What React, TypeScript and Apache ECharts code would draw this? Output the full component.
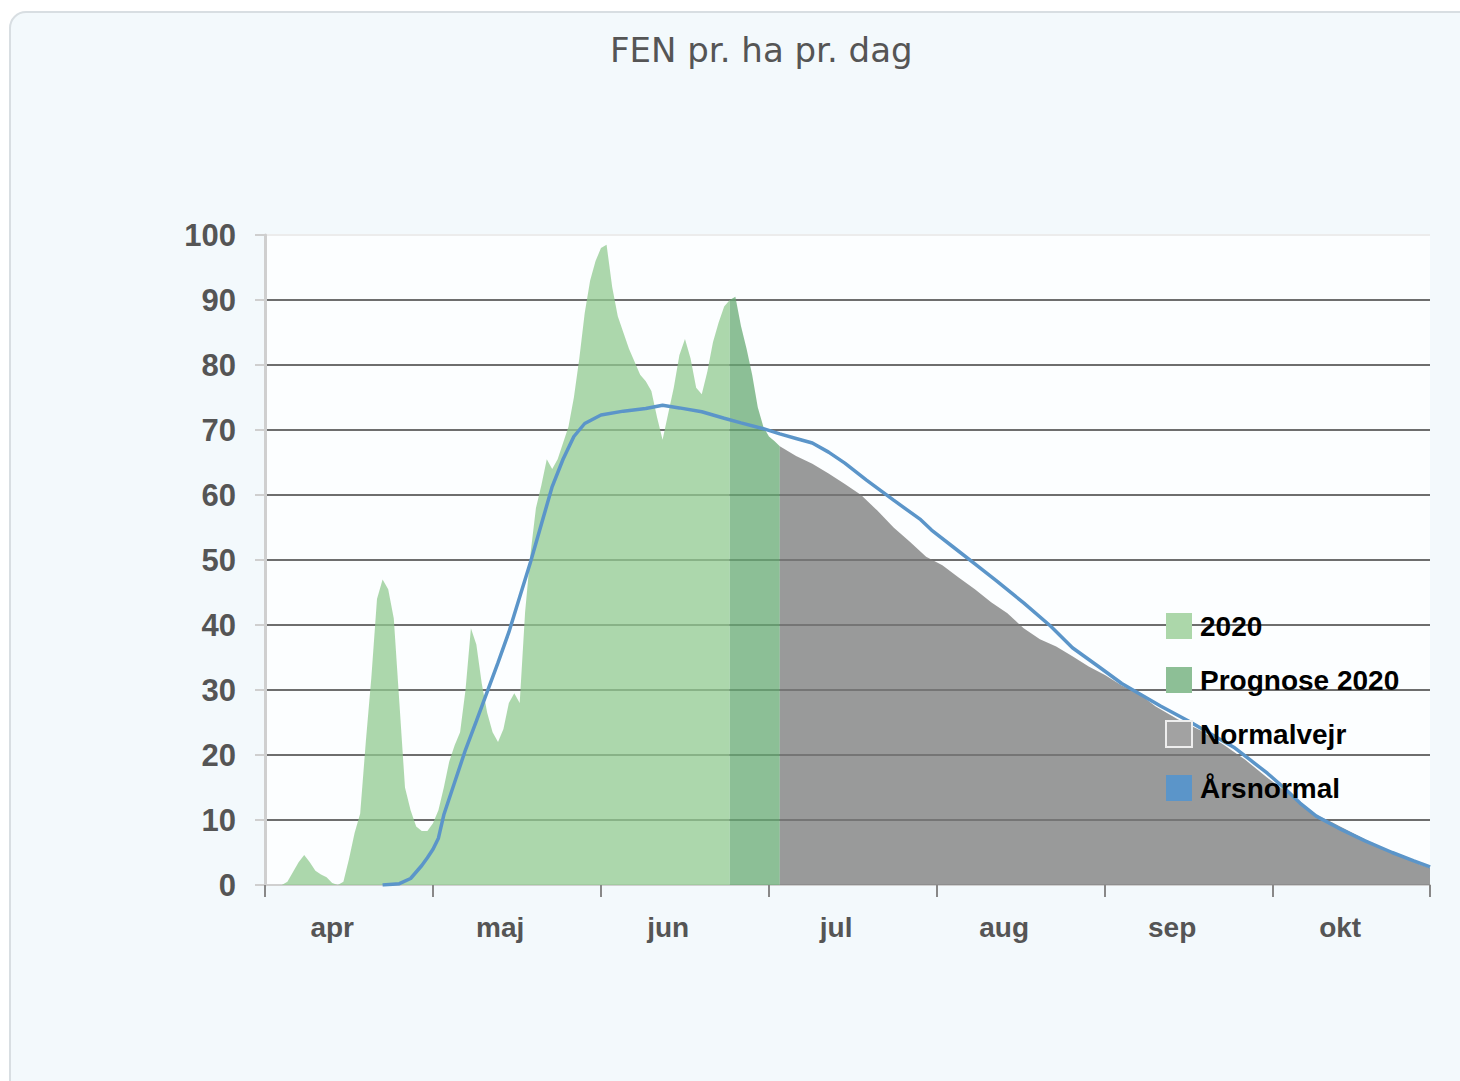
import React, { useEffect, useRef } from "react";
import * as echarts from "echarts";

const TITLE = "FEN pr. ha pr. dag";
const MONTHS = ["apr", "maj", "jun", "jul", "aug", "sep", "okt"];
const MONTH_DAYS = [30, 31, 30, 31, 31, 30, 31];
const X_MAX = 6.935;
const Y_TICKS = [0, 10, 20, 30, 40, 50, 60, 70, 80, 90, 100];

const SERIES_NAMES = ["2020", "Prognose 2020", "Normalvejr", "Årsnormal"];

const DATES_2020 = [
  "04-01", "04-04", "04-05", "04-06", "04-07", "04-08", "04-09", "04-10", "04-11", "04-12",
  "04-13", "04-14", "04-15", "04-16", "04-17", "04-18", "04-19", "04-20", "04-21", "04-22",
  "04-23", "04-24", "04-25", "04-26", "04-27", "04-28", "04-29", "04-30", "05-01", "05-02",
  "05-03", "05-04", "05-05", "05-06", "05-07", "05-08", "05-09", "05-10", "05-11", "05-12",
  "05-13", "05-14", "05-15", "05-16", "05-17", "05-18", "05-19", "05-20", "05-21", "05-22",
  "05-23", "05-24", "05-25", "05-26", "05-27", "05-28", "05-29", "05-30", "05-31", "06-01",
  "06-02", "06-03", "06-04", "06-05", "06-06", "06-07", "06-08", "06-09", "06-10", "06-11",
  "06-12", "06-13", "06-14", "06-15", "06-16", "06-17", "06-18", "06-19", "06-20", "06-21",
  "06-22", "06-23", "06-24",
];
const VALUES_2020 = [
  0, 0, 0.5, 2, 3.5, 4.6, 3.5, 2.2, 1.6, 1.2,
  0.3, 0, 0.5, 4, 8, 11, 22, 32, 44, 47,
  45.5, 41, 28, 15, 11.5, 9, 8.3, 8.3, 9.5, 11.5,
  15, 19, 21.5, 23.5, 30, 39.5, 37, 31, 26.5, 23.5,
  22, 24, 28, 29.5, 28, 42, 51, 58, 61.5, 65.5,
  64, 65.5, 68, 70.5, 75, 81, 88, 93, 96, 98,
  98.5, 92, 87.5, 85, 82.5, 80.5, 78.5, 77.5, 76, 72,
  68.5, 72.5, 76.5, 81.5, 84, 81, 76.5, 75.5, 79, 83.5,
  86.5, 89, 90,
];

const DATES_PROGNOSE = ["06-24", "06-25", "06-26", "06-27", "06-28", "06-29", "06-30", "07-01", "07-02", "07-03"];
const VALUES_PROGNOSE = [90, 90.5, 86, 82.5, 78.5, 73.5, 70.5, 69, 68.3, 67.5];

const DATES_NORMALVEJR = [
  "07-03", "07-06", "07-09", "07-12", "07-15", "07-18", "07-21", "07-24", "07-27", "07-30",
  "08-02", "08-05", "08-08", "08-11", "08-14", "08-17", "08-20", "08-23", "08-26", "08-29",
  "09-01", "09-04", "09-07", "09-10", "09-14", "09-18", "09-22", "09-26", "09-30", "10-04",
  "10-08", "10-12", "10-16", "10-20", "10-24", "10-28", "10-30",
];
const VALUES_NORMALVEJR = [
  67.5, 66, 64.8, 63.3, 61.7, 60, 57.6, 55, 52.8, 50.5,
  49.2, 47.3, 45.5, 43.5, 41.8, 39.5, 37.8, 36.7, 35.2, 33.6,
  32.3, 30.7, 29.5, 27.5, 25.5, 23.8, 21.7, 19.3, 16.5, 14,
  11.2, 9.6, 7.9, 6.2, 4.7, 3.2, 2.6,
];

const DATES_AARSNORMAL = [
  "04-22", "04-25", "04-27", "04-29", "04-30", "05-01", "05-02", "05-03", "05-05", "05-07",
  "05-09", "05-11", "05-13", "05-15", "05-17", "05-19", "05-21", "05-23", "05-25", "05-27",
  "05-29", "06-01", "06-05", "06-09", "06-12", "06-15", "06-19", "06-23", "06-26", "06-30",
  "07-03", "07-06", "07-09", "07-12", "07-15", "07-19", "07-24", "07-29", "07-31", "08-04",
  "08-08", "08-12", "08-17", "08-22", "08-26", "08-31", "09-04", "09-07", "09-11", "09-16",
  "09-20", "09-24", "09-27", "09-30", "10-03", "10-06", "10-09", "10-13", "10-18", "10-23",
  "10-27", "10-30",
];
const VALUES_AARSNORMAL = [
  0, 0.2, 1, 3, 4.2, 5.5, 7.2, 10.8, 15.8, 20.8,
  25.2, 29.7, 34.2, 38.9, 44.3, 49.7, 55.5, 61.3, 65.5, 69,
  71, 72.3, 72.9, 73.3, 73.8, 73.4, 72.8, 71.8, 71.1, 70.2,
  69.4, 68.7, 68, 66.6, 64.9, 62.3, 59.2, 56.2, 54.6, 52,
  49.4, 46.8, 43.4, 39.8, 36.5, 33.5, 31, 29.5, 27.5, 25.2,
  23.2, 21.2, 19.2, 17.2, 15, 12.6, 10.6, 8.8, 6.8, 5,
  3.7, 2.8,
];

const FONT = "'Liberation Sans', Arial, sans-serif";

function toX(md: string): number {
  const m = parseInt(md.slice(0, 2), 10) - 4;
  const d = parseInt(md.slice(3), 10);
  return m + (d - 1) / MONTH_DAYS[m];
}

function pairs(dates: string[], values: number[]) {
  return dates.map((d, i) => [toX(d), values[i]]);
}

export default function App() {
  const ref = useRef<HTMLDivElement>(null);

  useEffect(() => {
    document.body.style.margin = "0";
    if (!ref.current) return;
    const chart = echarts.init(ref.current, undefined, { renderer: "svg" });

    const tickVals = MONTHS.map((_, i) => i).concat([X_MAX]);
    const labelVals = MONTHS.map((_, i) => i + 0.4);
    const gridColors = Y_TICKS.map((v, i) =>
      i === 0 ? "#d0d0d0" : i === Y_TICKS.length - 1 ? "#ececec" : "#6e6e6e"
    );

    const option: any = {
      animation: false,
      backgroundColor: "#ffffff",
      graphic: [
        {
          type: "rect",
          z: -10,
          shape: { x: 10, y: 12, width: 1500, height: 1100, r: 16 },
          style: { fill: "#f3f9fc", stroke: "#d8dee2", lineWidth: 2 },
          silent: true,
        },
      ],
      title: {
        text: TITLE,
        left: 605,
        top: 28,
        textStyle: {
          fontFamily: "'DejaVu Sans', sans-serif",
          fontSize: 34,
          fontWeight: "normal",
          color: "#555555",
        },
      },
      grid: {
        left: 265,
        right: 30,
        top: 235,
        bottom: 196,
        show: true,
        backgroundColor: "#fcfeff",
        borderWidth: 0,
      },
      legend: {
        orient: "vertical",
        left: 1160,
        top: 607,
        icon: "rect",
        itemWidth: 26,
        itemHeight: 26,
        itemGap: 26,
        textStyle: {
          fontFamily: FONT,
          fontSize: 28,
          fontWeight: "bold",
          color: "#000000",
          lineHeight: 28,
          padding: [0, 0, 0, 3],
        },
        data: [
          { name: SERIES_NAMES[0], itemStyle: { color: "#acd7aa", borderWidth: 0 } },
          { name: SERIES_NAMES[1], itemStyle: { color: "#8dbf96", borderWidth: 0 } },
          { name: SERIES_NAMES[2], itemStyle: { color: "#a2a2a2", borderColor: "#eeeeee", borderWidth: 2 } },
          { name: SERIES_NAMES[3], itemStyle: { color: "#5b95c9", borderWidth: 0 } },
        ],
      },
      xAxis: {
        type: "value",
        min: 0,
        max: X_MAX,
        axisLine: { show: true, lineStyle: { color: "#d0d0d0", width: 2 } },
        axisTick: {
          show: true,
          customValues: tickVals,
          length: 12,
          lineStyle: { color: "#888888", width: 2 },
        },
        axisLabel: {
          customValues: labelVals,
          formatter: (v: number) => MONTHS[Math.floor(v)] || "",
          fontFamily: FONT,
          fontSize: 28,
          fontWeight: "bold",
          color: "#555555",
          margin: 28,
        },
        splitLine: { show: false },
      },
      yAxis: {
        type: "value",
        min: 0,
        max: 100,
        interval: 10,
        axisLine: { show: true, lineStyle: { color: "#cfcfcf", width: 3 } },
        axisTick: { show: true, length: 10, lineStyle: { color: "#cfcfcf", width: 2 } },
        axisLabel: {
          fontFamily: FONT,
          fontSize: 31,
          fontWeight: "bold",
          color: "#555555",
          margin: 29,
        },
        splitLine: { show: true, lineStyle: { color: gridColors, width: 2 } },
      },
      series: [
        {
          name: SERIES_NAMES[0],
          type: "line",
          data: pairs(DATES_2020, VALUES_2020),
          showSymbol: false,
          lineStyle: { width: 0, opacity: 0 },
          itemStyle: { color: "#acd7aa" },
          areaStyle: { color: "rgba(146,202,144,0.75)", opacity: 1 },
          z: 2,
        },
        {
          name: SERIES_NAMES[1],
          type: "line",
          data: pairs(DATES_PROGNOSE, VALUES_PROGNOSE),
          showSymbol: false,
          lineStyle: { width: 0, opacity: 0 },
          itemStyle: { color: "#8dbf96" },
          areaStyle: { color: "rgba(103,170,115,0.75)", opacity: 1 },
          z: 2,
        },
        {
          name: SERIES_NAMES[2],
          type: "line",
          data: pairs(DATES_NORMALVEJR, VALUES_NORMALVEJR),
          showSymbol: false,
          lineStyle: { width: 0, opacity: 0 },
          itemStyle: { color: "#9a9a9a" },
          areaStyle: { color: "rgba(120,120,120,0.75)", opacity: 1 },
          z: 2,
        },
        {
          name: SERIES_NAMES[3],
          type: "line",
          data: pairs(DATES_AARSNORMAL, VALUES_AARSNORMAL),
          showSymbol: false,
          lineStyle: { width: 3.5, color: "#5b95c9" },
          itemStyle: { color: "#5b95c9" },
          z: 3,
        },
      ],
    };

    chart.setOption(option);
    return () => chart.dispose();
  }, []);

  return <div ref={ref} style={{ width: 1460, height: 1081 }} />;
}
